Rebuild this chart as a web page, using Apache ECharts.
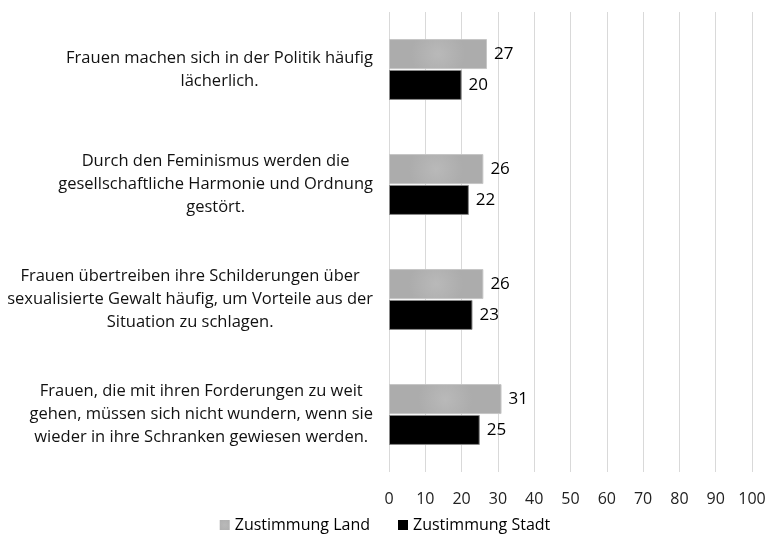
<!DOCTYPE html>
<html>
<head>
<meta charset="utf-8">
<script src="https://cdn.jsdelivr.net/npm/echarts@6/dist/echarts.min.js"></script>
<style>
  html, body { margin: 0; padding: 0; background: #fff; }
  #chart { width: 770px; height: 539px; }
</style>
</head>
<body>
<div id="chart"></div>
<script>
var categories = [
    'Frauen machen sich in der Politik häufig\nlächerlich.',
    'Durch den Feminismus werden die\ngesellschaftliche Harmonie und Ordnung\ngestört.',
    'Frauen übertreiben ihre Schilderungen über\nsexualisierte Gewalt häufig, um Vorteile aus der\nSituation zu schlagen.',
    'Frauen, die mit ihren Forderungen zu weit\ngehen, müssen sich nicht wundern, wenn sie\nwieder in ihre Schranken gewiesen werden.'
];
var landValues = [27, 26, 26, 31];
var stadtValues = [20, 22, 23, 25];
var seriesNames = ['Zustimmung Land', 'Zustimmung Stadt'];

var fontFamily = '"Open Sans", sans-serif';

var chart = echarts.init(document.getElementById('chart'));

var valueLabel = {
    show: true,
    position: 'right',
    distance: 7,
    color: '#000',
    fontSize: 17,
    fontFamily: fontFamily
};

var option = {
    animation: false,
    backgroundColor: '#fff',
    grid: {
        left: 389,
        right: 18,
        top: 12,
        bottom: 67,
        containLabel: false
    },
    legend: {
        data: seriesNames,
        bottom: 1,
        left: 'center',
        itemWidth: 10,
        itemHeight: 10,
        itemGap: 28,
        icon: 'rect',
        itemStyle: { borderWidth: 0 },
        textStyle: {
            fontSize: 16,
            color: '#000',
            fontFamily: fontFamily
        }
    },
    xAxis: {
        type: 'value',
        min: 0,
        max: 100,
        interval: 10,
        axisLine: { show: false },
        axisTick: { show: false },
        splitLine: { show: true, lineStyle: { color: '#d9d9d9', width: 1 } },
        axisLabel: {
            color: '#222',
            fontSize: 16,
            margin: 19,
            fontFamily: fontFamily
        }
    },
    yAxis: {
        type: 'category',
        inverse: true,
        data: categories,
        axisLine: { show: false },
        axisTick: { show: false },
        axisLabel: {
            margin: 16,
            align: 'right',
            formatter: function (value) {
                return value.split('\n').map(function (line) {
                    return '{c|' + line + '}';
                }).join('\n');
            },
            rich: {
                c: {
                    align: 'center',
                    fontSize: 16.5,
                    lineHeight: 23,
                    color: '#111',
                    fontFamily: fontFamily
                }
            }
        }
    },
    series: [
        {
            name: seriesNames[0],
            type: 'bar',
            data: landValues,
            barWidth: 30,
            barGap: '3%',
            itemStyle: {
                color: {
                    type: 'radial',
                    x: 0.5, y: 0.5, r: 0.9,
                    colorStops: [
                        { offset: 0, color: '#b9b9b9' },
                        { offset: 1, color: '#acacac' }
                    ]
                },
                borderColor: '#c6c6c6',
                borderWidth: 1
            },
            label: valueLabel
        },
        {
            name: seriesNames[1],
            type: 'bar',
            data: stadtValues,
            barWidth: 30,
            itemStyle: {
                color: '#000',
                borderColor: '#8a8a8a',
                borderWidth: 1
            },
            label: valueLabel
        }
    ]
};

chart.setOption(option);
</script>
</body>
</html>
